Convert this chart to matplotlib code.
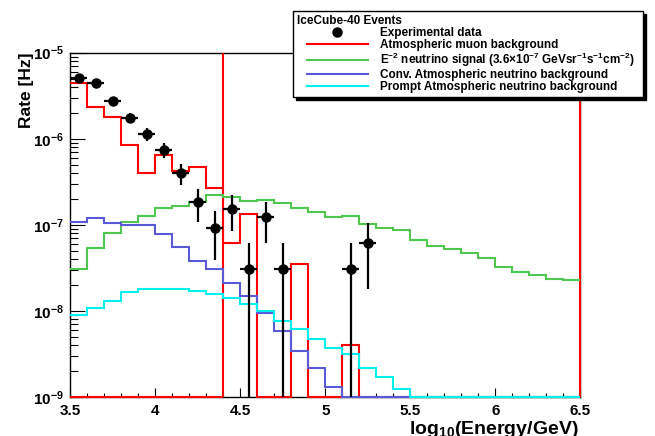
#!/usr/bin/env python3
"""
IceCube-40 event rate vs. reconstructed energy, with background and signal expectations.
"""
import matplotlib
matplotlib.use("Agg")
import matplotlib.pyplot as plt
import numpy as np
from matplotlib.legend_handler import HandlerLine2D
from matplotlib.lines import Line2D
from matplotlib.ticker import LogLocator, MultipleLocator, NullFormatter

# Histogram binning in log10(E/GeV)
energy_bin_edges = [3.5, 3.6, 3.7, 3.8, 3.9, 4.0, 4.1, 4.2, 4.3, 4.4, 4.5,
                    4.6, 4.7, 4.8, 4.9, 5.0, 5.1, 5.2, 5.3, 5.4, 5.5,
                    5.6, 5.7, 5.8, 5.9, 6.0, 6.1, 6.2, 6.3, 6.4, 6.5]

# Rates per bin [Hz]
muon_rate = [4.41e-6, 2.32e-6, 1.81e-6, 8.55e-7, 3.98e-7, 6.44e-7, 4.27e-7, 4.75e-7, 2.71e-7,
             6.18e-8, 1.35e-7, 0, 0, 3.50e-8, 0, 0, 4.05e-9, 0, 0, 0,
             0, 0, 0, 0, 0, 0, 0, 0, 0, 0]
signal_rate = [3.11e-8, 5.46e-8, 8.07e-8, 1.07e-7, 1.28e-7, 1.59e-7, 1.66e-7, 1.85e-7, 2.20e-7,
               2.11e-7, 1.91e-7, 1.95e-7, 1.79e-7, 1.56e-7, 1.42e-7, 1.23e-7, 1.27e-7, 1.02e-7,
               9.30e-8, 8.68e-8, 6.70e-8, 5.75e-8, 5.31e-8, 4.77e-8, 4.17e-8, 3.28e-8, 2.87e-8,
               2.61e-8, 2.36e-8, 2.28e-8]
conv_nu_rate = [1.08e-7, 1.22e-7, 1.06e-7, 9.93e-8, 1.00e-7, 7.80e-8, 5.56e-8, 3.79e-8, 3.06e-8,
                2.14e-8, 1.50e-8, 9.60e-9, 5.91e-9, 3.47e-9, 2.21e-9, 1.33e-9, 0, 0,
                0, 0, 0, 0, 0, 0, 0, 0, 0, 0, 0, 0]
prompt_nu_rate = [9.0e-9, 1.10e-8, 1.31e-8, 1.66e-8, 1.81e-8, 1.80e-8, 1.79e-8, 1.69e-8, 1.59e-8,
                  1.43e-8, 1.22e-8, 1.00e-8, 7.78e-9, 6.23e-9, 4.75e-9, 3.75e-9, 3.15e-9, 2.17e-9,
                  1.72e-9, 1.26e-9, 0, 0, 0, 0, 0, 0, 0, 0, 0, 0]

# Vertical strokes left by the muon histogram drawing
muon_spike_edges = [4.4, 6.5]

# Experimental data
data_log_e = [3.55, 3.65, 3.75, 3.85, 3.95, 4.05, 4.15, 4.25, 4.35, 4.45, 4.55, 4.65, 4.75, 5.15, 5.25]
data_rate = [5.13e-6, 4.45e-6, 2.75e-6, 1.75e-6, 1.14e-6, 7.43e-7, 4.05e-7, 1.84e-7, 9.22e-8,
             1.53e-7, 3.06e-8, 1.23e-7, 3.06e-8, 3.06e-8, 6.14e-8]
data_err = [3.97e-7, 3.7e-7, 2.9e-7, 2.3e-7, 1.86e-7, 1.5e-7, 1.11e-7, 7.5e-8, 5.3e-8,
            6.84e-8, 3.06e-8, 6.12e-8, 3.06e-8, 3.06e-8, 4.33e-8]
data_half_width = 0.05

Y_MIN, Y_MAX = 1e-9, 1e-5
X_MIN, X_MAX = 3.5, 6.5

COLORS = {
    'muon': '#ff0000',
    'signal': '#50c850',
    'conv': '#5a5ad6',
    'prompt': '#00f0f0',
}


def draw_hist(ax, values, color):
    """Step histogram; empty bins sit on the lower frame edge."""
    vals = np.clip(np.asarray(values, dtype=float), Y_MIN, None)
    ax.stairs(vals, energy_bin_edges, baseline=None, color=color,
              linewidth=1.5, clip_on=False, zorder=3)


def main():
    plt.rcParams.update({
        'font.family': 'Liberation Sans',
        'font.weight': 'bold',
        'axes.labelweight': 'bold',
        'mathtext.fontset': 'custom',
        'mathtext.rm': 'Liberation Sans:bold',
        'mathtext.it': 'Liberation Sans:bold:italic',
        'mathtext.bf': 'Liberation Sans:bold',
        'mathtext.sf': 'Liberation Sans:bold',
        'mathtext.default': 'rm',
        'axes.linewidth': 1.0,
    })

    fig = plt.figure(figsize=(6.55, 4.36), dpi=100)
    ax = fig.add_axes([0.1076, 0.0888, 0.7786, 0.7904])

    # Histograms
    draw_hist(ax, muon_rate, COLORS['muon'])
    ax.vlines(muon_spike_edges, Y_MIN, Y_MAX, color=COLORS['muon'],
              linewidth=1.5, clip_on=False, zorder=3)
    ax.hlines(Y_MIN, energy_bin_edges[0], muon_spike_edges[0], color=COLORS['muon'],
              linewidth=1.5, clip_on=False, zorder=3)
    draw_hist(ax, signal_rate, COLORS['signal'])
    draw_hist(ax, conv_nu_rate, COLORS['conv'])
    draw_hist(ax, prompt_nu_rate, COLORS['prompt'])

    # Data points
    ax.errorbar(data_log_e, data_rate, xerr=data_half_width, yerr=data_err,
                fmt='o', color='black', markersize=6.5, elinewidth=1.6,
                capsize=0, zorder=5)

    ax.set_yscale('log')
    ax.set_xlim(X_MIN, X_MAX)
    ax.set_ylim(Y_MIN, Y_MAX)

    x_major = [3.5, 4.0, 4.5, 5.0, 5.5, 6.0, 6.5]
    ax.set_xticks(x_major, labels=['3.5', '4', '4.5', '5', '5.5', '6', '6.5'])
    ax.xaxis.set_minor_locator(MultipleLocator(0.1))
    y_major = [1e-9, 1e-8, 1e-7, 1e-6, 1e-5]
    ax.set_yticks(y_major, labels=[r'10$^{-9}$', r'10$^{-8}$', r'10$^{-7}$',
                                   r'10$^{-6}$', r'10$^{-5}$'])
    ax.yaxis.set_minor_locator(LogLocator(base=10, subs=np.arange(2, 10)))
    ax.yaxis.set_minor_formatter(NullFormatter())

    ax.tick_params(which='both', direction='in', top=False, right=False,
                   width=0.8, labelsize=11)
    ax.tick_params(axis='x', which='major', length=6.5, pad=5.0)
    ax.tick_params(axis='x', which='minor', length=3.2)
    ax.tick_params(axis='y', which='major', length=11, pad=5.0)
    ax.tick_params(axis='y', which='minor', length=5.5)

    # Axis titles sit at the far ends of the axes
    ax.set_xlabel(r'log$_{10}$(Energy/GeV)', loc='right', fontsize=14,
                  fontweight='bold')
    ax.xaxis.set_label_coords(0.996, -0.064)
    ax.set_ylabel('Rate [Hz]', loc='top', fontsize=12.5, fontweight='bold')
    ax.yaxis.set_label_coords(-0.072, 1.0)

    # Legend
    handles = [
        Line2D([], [], linestyle='none', marker='o', color='black', markersize=6.5),
        Line2D([], [], color=COLORS['muon'], linewidth=1.5),
        Line2D([], [], color=COLORS['signal'], linewidth=1.5),
        Line2D([], [], color=COLORS['conv'], linewidth=1.5),
        Line2D([], [], color=COLORS['prompt'], linewidth=1.5),
    ]
    labels = [
        'Experimental data',
        'Atmospheric muon background',
        r'E$^{-2}$ neutrino signal (3.6×10$^{-7}$ GeVsr$^{-1}$s$^{-1}$cm$^{-2}$)',
        'Conv. Atmospheric neutrino background',
        'Prompt Atmospheric neutrino background',
    ]
    leg = ax.legend(handles, labels, title='IceCube-40 Events',
                    loc='upper left',
                    bbox_to_anchor=(293 / 655, 1 - 97 / 436, 350 / 655, 86 / 436),
                    bbox_transform=fig.transFigure, mode='expand',
                    alignment='left',
                    prop={'weight': 'bold', 'size': 8.5},
                    title_fontproperties={'weight': 'bold', 'size': 8.5},
                    frameon=True, fancybox=False, edgecolor='black',
                    framealpha=1.0, shadow={'color': 'black', 'alpha': 1.0},
                    borderpad=0.35, labelspacing=0.0, handlelength=6.0,
                    handletextpad=1.0, borderaxespad=0.0,
                    handler_map={Line2D: HandlerLine2D(xpad=0.82)})
    leg.get_frame().set_linewidth(1.0)
    leg.set_zorder(10)

    fig.savefig('out.png', dpi=100)


if __name__ == "__main__":
    main()
